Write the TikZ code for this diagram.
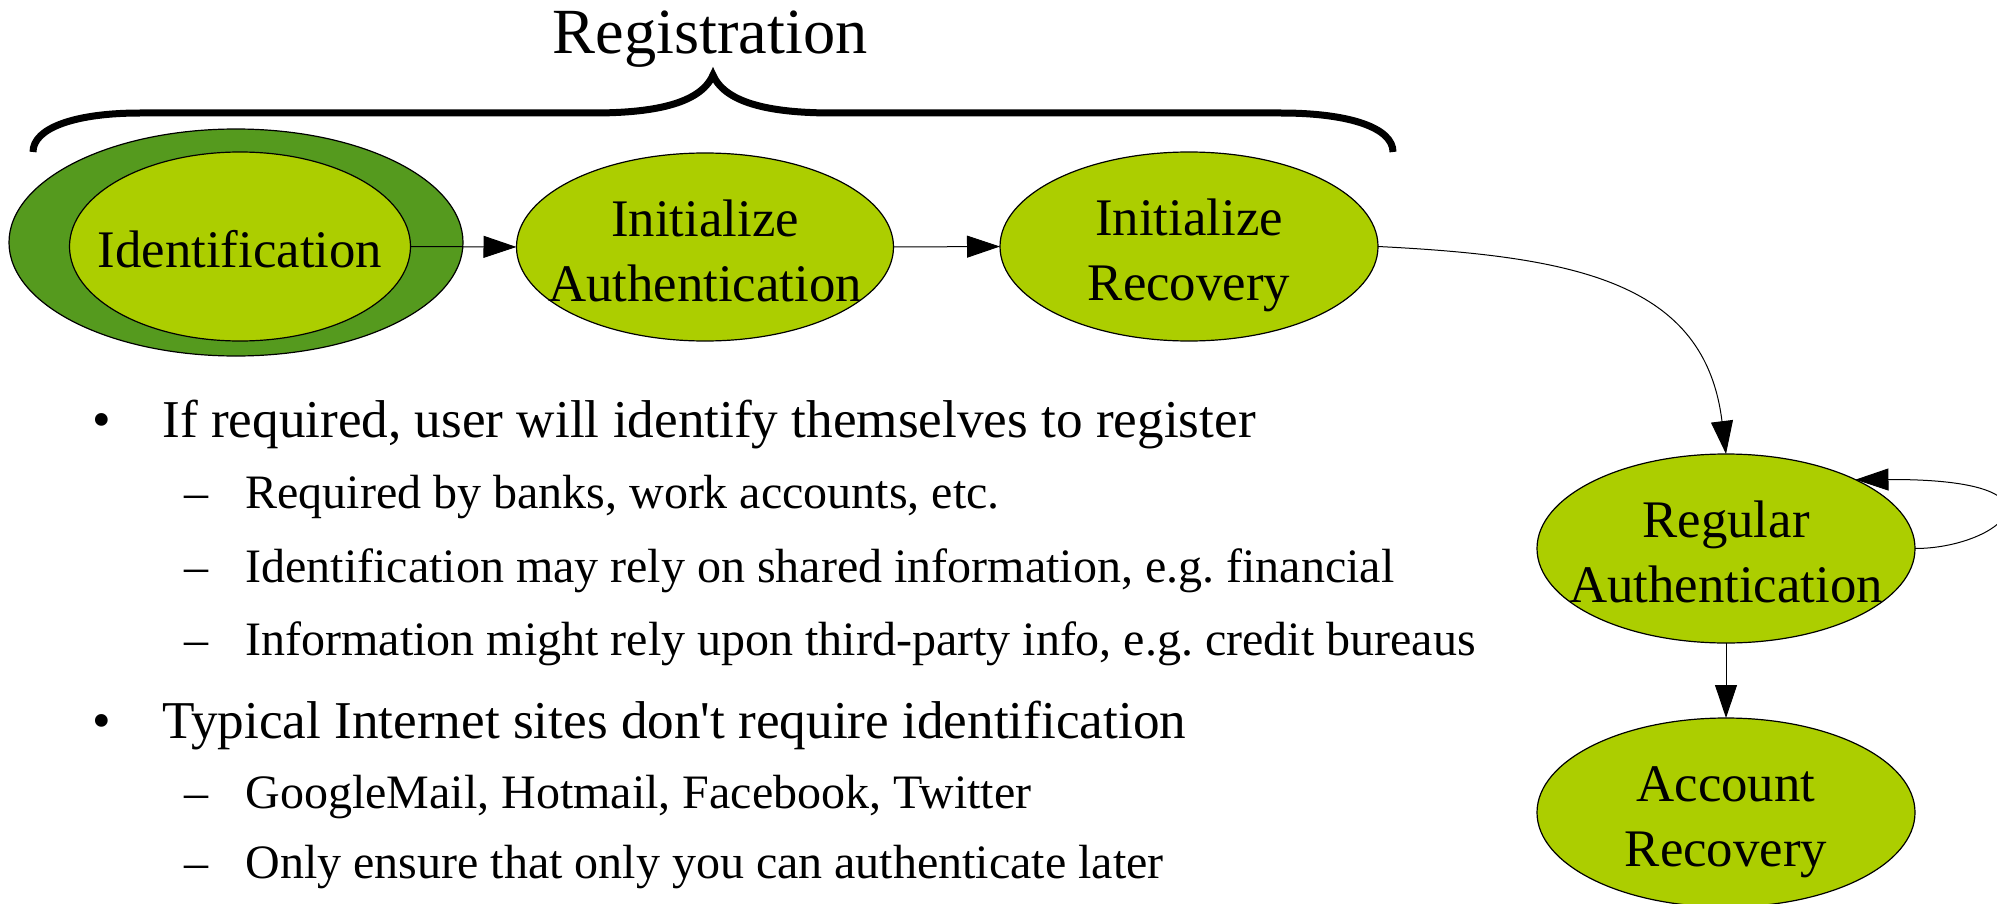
\documentclass[tikz,border=0pt]{standalone}
\usepackage{fontspec}
\setmainfont{Liberation Serif}
\usetikzlibrary{shapes.geometric,arrows.meta,calc}
\definecolor{leaf}{RGB}{172,206,0}
\definecolor{moss}{RGB}{85,154,30}
\frenchspacing
\begin{document}
\begin{tikzpicture}[x=0.5pt,y=-0.5pt,
  state/.style={ellipse,draw=black,line width=0.6pt,fill=leaf,inner sep=0pt,outer sep=0pt,
                minimum width=378pt/2,minimum height=189pt/2},
  flow/.style={line width=0.5pt,-{Triangle[length=16.5pt,width=11pt]}},
  nodetext/.style={font=\fontsize{26.4}{31}\selectfont,inner sep=0pt,anchor=base},
  bulletmark/.style={font=\fontsize{26.6}{32}\selectfont,inner sep=0pt,anchor=base},
  dashmark/.style={font=\fontsize{24}{29}\selectfont,inner sep=0pt,anchor=base},
  maintext/.style={font=\fontsize{26.6}{32}\selectfont,inner sep=0pt,anchor=base west},
  subtext/.style={font=\fontsize{24}{29}\selectfont,inner sep=0pt,anchor=base west},
  bracestroke/.style={line width=3.5pt}]
\useasboundingbox (0,0) rectangle (1997,904);

% heading and brace over the registration steps
\node[font=\fontsize{32.2}{38}\selectfont,inner sep=0pt,anchor=base] (reg) at (710,54) {Registration};
\draw[bracestroke] (33,152) .. controls (33,128) and (75,113) .. (140,113) -- (593,113)
  .. controls (650,113) and (700,105) .. (713,75)
  .. controls (726,105) and (776,113) .. (833,113) -- (1281,113)
  .. controls (1350,113) and (1393,128) .. (1393,152);

% states
\node[state,fill=moss,minimum width=227pt,minimum height=113.5pt] (idout) at (236,242.5) {};
\node[state,minimum width=170.5pt,minimum height=94.5pt] (idin) at (240,246.5) {};
\node[state,minimum width=188.5pt,minimum height=94pt] (ia) at (705,247) {};
\node[state] (ir) at (1189,246.5) {};
\node[state] (ra) at (1726,548.5) {};
\node[state] (ar) at (1726,812.5) {};

% state labels
\node[nodetext] (tid) at ($(idin)+(0,20.5)$) {Identification};
\node[nodetext] (tia1) at ($(ia)+(0,-11)$) {Initialize};
\node[nodetext] (tia2) at ($(ia)+(0,54)$) {Authentication};
\node[nodetext] (tir1) at ($(ir)+(0,-11)$) {Initialize};
\node[nodetext] (tir2) at ($(ir)+(0,54)$) {Recovery};
\node[nodetext] (tra1) at ($(ra)+(0,-11)$) {Regular};
\node[nodetext] (tra2) at ($(ra)+(0,54)$) {Authentication};
\node[nodetext] (tar1) at ($(ar)+(0,-11)$) {Account};
\node[nodetext] (tar2) at ($(ar)+(0,54)$) {Recovery};

% transitions
\draw[flow] (idin.east) -- (ia.west);
\draw[flow] (ia.east) -- (ir.west);
\draw[flow] (ir.east) .. controls +(200,10) and +(-21,-171) .. (ra.north);
\draw[flow] (ra.east) .. controls +(85,0) and +(225,-1) .. (ra.28);
\draw[flow] (ra.south) -- (ar.north);

% notes
\node[bulletmark] (b1) at (102,437) {\textbullet};
\node[maintext] (l1) at (162,437) {If required, user will identify themselves to register};
\node[dashmark] (d2) at (196,508) {\textendash};
\node[subtext] (l2) at (245,508) {Required by banks, work accounts, etc.};
\node[dashmark] (d3) at (196,582) {\textendash};
\node[subtext] (l3) at (245,582) {Identification may rely on shared information, e.g. financial};
\node[dashmark] (d4) at (196,655) {\textendash};
\node[subtext] (l4) at (245,655) {Information might rely upon third-party info, e.g. credit bureaus};
\node[bulletmark] (b5) at (102,738) {\textbullet};
\node[maintext] (l5) at (162,738) {Typical Internet sites don\textquotesingle t require identification};
\node[dashmark] (d6) at (196,808) {\textendash};
\node[subtext] (l6) at (245,808) {GoogleMail, Hotmail, Facebook, Twitter};
\node[dashmark] (d7) at (196,878) {\textendash};
\node[subtext] (l7) at (245,878) {Only ensure that only you can authenticate later};
\end{tikzpicture}
\end{document}
